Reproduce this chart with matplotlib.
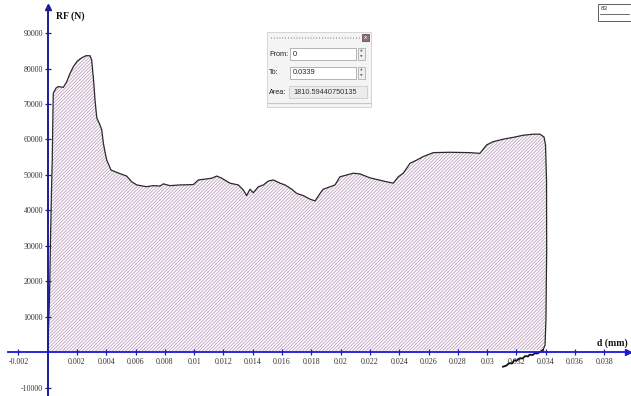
import matplotlib
matplotlib.use("Agg")
import matplotlib.pyplot as plt
from matplotlib.patches import Rectangle

# load-displacement curve (loading branch, closed back to zero)
d = [0, 0.00012, 0.00019, 0.00026, 0.00031, 0.00036, 0.00038, 0.00057, 0.00072, 0.00107,
     0.0013, 0.00152, 0.00175, 0.00202, 0.00232, 0.00261, 0.00289, 0.0030, 0.00313, 0.00323,
     0.00335, 0.00357, 0.00369, 0.0038, 0.00391, 0.00403, 0.00432, 0.0048, 0.00539, 0.00573,
     0.00608, 0.00676, 0.00719, 0.00767, 0.00789, 0.00835, 0.00903, 0.00994, 0.01028, 0.01085,
     0.0112, 0.01154, 0.01188, 0.01244, 0.01301, 0.01335, 0.01358, 0.01381, 0.01403, 0.01438,
     0.01472, 0.01506, 0.0154, 0.01586, 0.0162, 0.01666, 0.017, 0.01745, 0.0179, 0.01825,
     0.01859, 0.01881, 0.01915, 0.01961, 0.01995, 0.02041, 0.02086, 0.02132, 0.022, 0.02291,
     0.02359, 0.02393, 0.02427, 0.02473, 0.02519, 0.02564, 0.02632, 0.02745, 0.02882, 0.0295,
     0.02997, 0.03042, 0.0311, 0.03178, 0.03246, 0.03315, 0.0336, 0.03388, 0.03398, 0.03405,
     0.03406, 0.03401, 0.03395, 0.03381]
rf = [0, 14800, 31700, 45800, 54200, 68300, 73000, 74500, 74900, 74700,
      76300, 78600, 80500, 82100, 83000, 83600, 83600, 82400, 76800, 71100,
      66100, 64100, 62700, 59000, 56500, 54200, 51400, 50600, 49700, 48100,
      47200, 46700, 47000, 46900, 47500, 47000, 47200, 47300, 48600, 48900,
      49100, 49700, 49100, 47700, 47200, 45800, 44200, 46000, 45000, 46700,
      47200, 48300, 48600, 47700, 47200, 46000, 44800, 44200, 43200, 42700,
      44800, 46000, 46500, 47200, 49500, 50000, 50500, 50300, 49200, 48300,
      47700, 49500, 50500, 53300, 54200, 55200, 56300, 56400, 56300, 56100,
      58500, 59400, 60100, 60600, 61200, 61500, 61500, 60700, 58500, 48600,
      28900, 9200, 2100, 700]

# unloading tail below zero
d_un = [0.03381, 0.0336, 0.0334, 0.03326, 0.0331, 0.0329, 0.03279, 0.0326,
        0.0324, 0.03224, 0.032, 0.03185, 0.03169, 0.0315, 0.0313, 0.03108]
rf_un = [700, 140, -300, -200, -700, -600, -1100, -1000,
         -1700, -1600, -2300, -2200, -3100, -3000, -3700, -4000]

xticks = [-0.002, 0.002, 0.004, 0.006, 0.008, 0.01, 0.012, 0.014, 0.016, 0.018,
          0.02, 0.022, 0.024, 0.026, 0.028, 0.03, 0.032, 0.034, 0.036, 0.038]
xlabels = ['-0.002', '0.002', '0.004', '0.006', '0.008', '0.01', '0.012', '0.014', '0.016',
           '0.018', '0.02', '0.022', '0.024', '0.026', '0.028', '0.03', '0.032', '0.034',
           '0.036', '0.038']
yticks = [-10000, 10000, 20000, 30000, 40000, 50000, 60000, 70000, 80000, 90000]

area_from = '0'
area_to = '0.0339'
area_val = '1810.59440750135'

W, H = 631, 396
plt.rcParams['hatch.linewidth'] = 0.6
fig = plt.figure(figsize=(W / 100, H / 100), dpi=100)
ax = fig.add_axes([0, 0, 1, 1])
ax.set_xlim(-0.003256, 0.039816)
ax.set_ylim(-12254, 99296)

xblue = '#1818d8'
yblue = '#1c1c96'

ax.fill(d + [0], rf + [0], facecolor='none', edgecolor='#c0a0c0', hatch='/' * 10, linewidth=0)
ax.plot(d, rf, color='#2a2a2a', lw=0.9)
ax.plot(d_un, rf_un, color='#111111', lw=1.3)

for s in ['top', 'right']:
    ax.spines[s].set_visible(False)
ax.spines['left'].set_position('zero')
ax.spines['bottom'].set_position('zero')
ax.spines['left'].set_color(yblue)
ax.spines['bottom'].set_color(xblue)
ax.spines['left'].set_linewidth(1.4)
ax.spines['bottom'].set_linewidth(1.3)
ax.spines['bottom'].set_bounds(-0.00273, 0.0396)
ax.spines['left'].set_bounds(-12254, 97500)

ax.plot([0], [97300], marker='^', color=yblue, ms=5, clip_on=False)
ax.plot([0.0396], [0], marker='>', color=xblue, ms=5, clip_on=False)

ax.set_xticks(xticks)
ax.set_xticklabels(xlabels)
ax.set_yticks(yticks)
ax.set_yticklabels([str(v) for v in yticks])
ax.tick_params(axis='x', direction='inout', length=5, width=0.9, color=xblue, pad=1.5,
               labelsize=5.8, labelcolor='#333333')
ax.tick_params(axis='y', direction='inout', length=5, width=0.9, color=yblue, pad=1,
               labelsize=5.8, labelcolor='#333333')
for lab in ax.get_xticklabels() + ax.get_yticklabels():
    lab.set_fontfamily('Liberation Serif')

ax.text(0.00055, 94800, 'RF (N)', fontsize=7, fontweight='bold', family='Liberation Serif',
        va='center', ha='left', color='#111111')
ax.text(0.0396, 2600, 'd (mm)', fontsize=7, fontweight='bold', family='Liberation Serif',
        va='center', ha='right', color='#111111')


def fx(x):
    return x / W


def fy(y):
    return 1 - y / H


def box(x0, y0, x1, y1, fc, ec, lw=0.6):
    fig.patches.append(Rectangle((fx(x0), fy(y1)), (x1 - x0) / W, (y1 - y0) / H,
                                 transform=fig.transFigure, facecolor=fc,
                                 edgecolor=ec, linewidth=lw))


# area tool panel
box(267, 32, 371, 107, '#f4f4f4', '#d0d0d0')
fig.add_artist(plt.Line2D([fx(271), fx(360)], [fy(37.5), fy(37.5)], transform=fig.transFigure,
                          color='#9a9a9a', lw=1.2, ls=(0, (0.5, 1.2))))
box(362, 34, 369, 41, '#8c7078', '#6a5058')
fig.text(fx(365.5), fy(37.7), 'x', fontsize=4, color='white', ha='center', va='center')

sans = 'Liberation Sans'
fig.text(fx(269), fy(54), 'From:', fontsize=5.3, family=sans, color='#222222', va='center')
box(290, 48, 356, 60, 'white', '#a8a8a8')
fig.text(fx(293), fy(54), area_from, fontsize=5.3, family=sans, color='#222222', va='center')
box(358, 48, 365, 60, '#f0f0f0', '#b0b0b0')

fig.text(fx(269), fy(73), 'To:', fontsize=5.3, family=sans, color='#222222', va='center')
box(290, 67, 356, 79, 'white', '#a8a8a8')
fig.text(fx(293), fy(73), area_to, fontsize=5.3, family=sans, color='#222222', va='center')
box(358, 67, 365, 79, '#f0f0f0', '#b0b0b0')
for yy in (48, 67):
    fig.text(fx(361.5), fy(yy + 3), '▲', fontsize=2.5, color='#666666', ha='center', va='center')
    fig.text(fx(361.5), fy(yy + 9), '▼', fontsize=2.5, color='#666666', ha='center', va='center')

fig.text(fx(269), fy(92), 'Area:', fontsize=5.3, family=sans, color='#222222', va='center')
box(289, 86, 367, 98, '#ececec', '#cccccc')
fig.text(fx(293), fy(92), area_val, fontsize=5.3, family=sans, color='#333333', va='center')
fig.add_artist(plt.Line2D([fx(267), fx(371)], [fy(103), fy(103)], transform=fig.transFigure,
                          color='#c8c8c8', lw=0.8))

# frame id label, top right
box(598, 4, 632, 21, 'white', '#444444')
fig.text(fx(601), fy(9), '83', fontsize=4.5, family=sans, color='#333333', va='center')
fig.add_artist(plt.Line2D([fx(600), fx(629)], [fy(14), fy(14)], transform=fig.transFigure,
                          color='#555555', lw=0.6))

fig.savefig('out.png', dpi=100)
